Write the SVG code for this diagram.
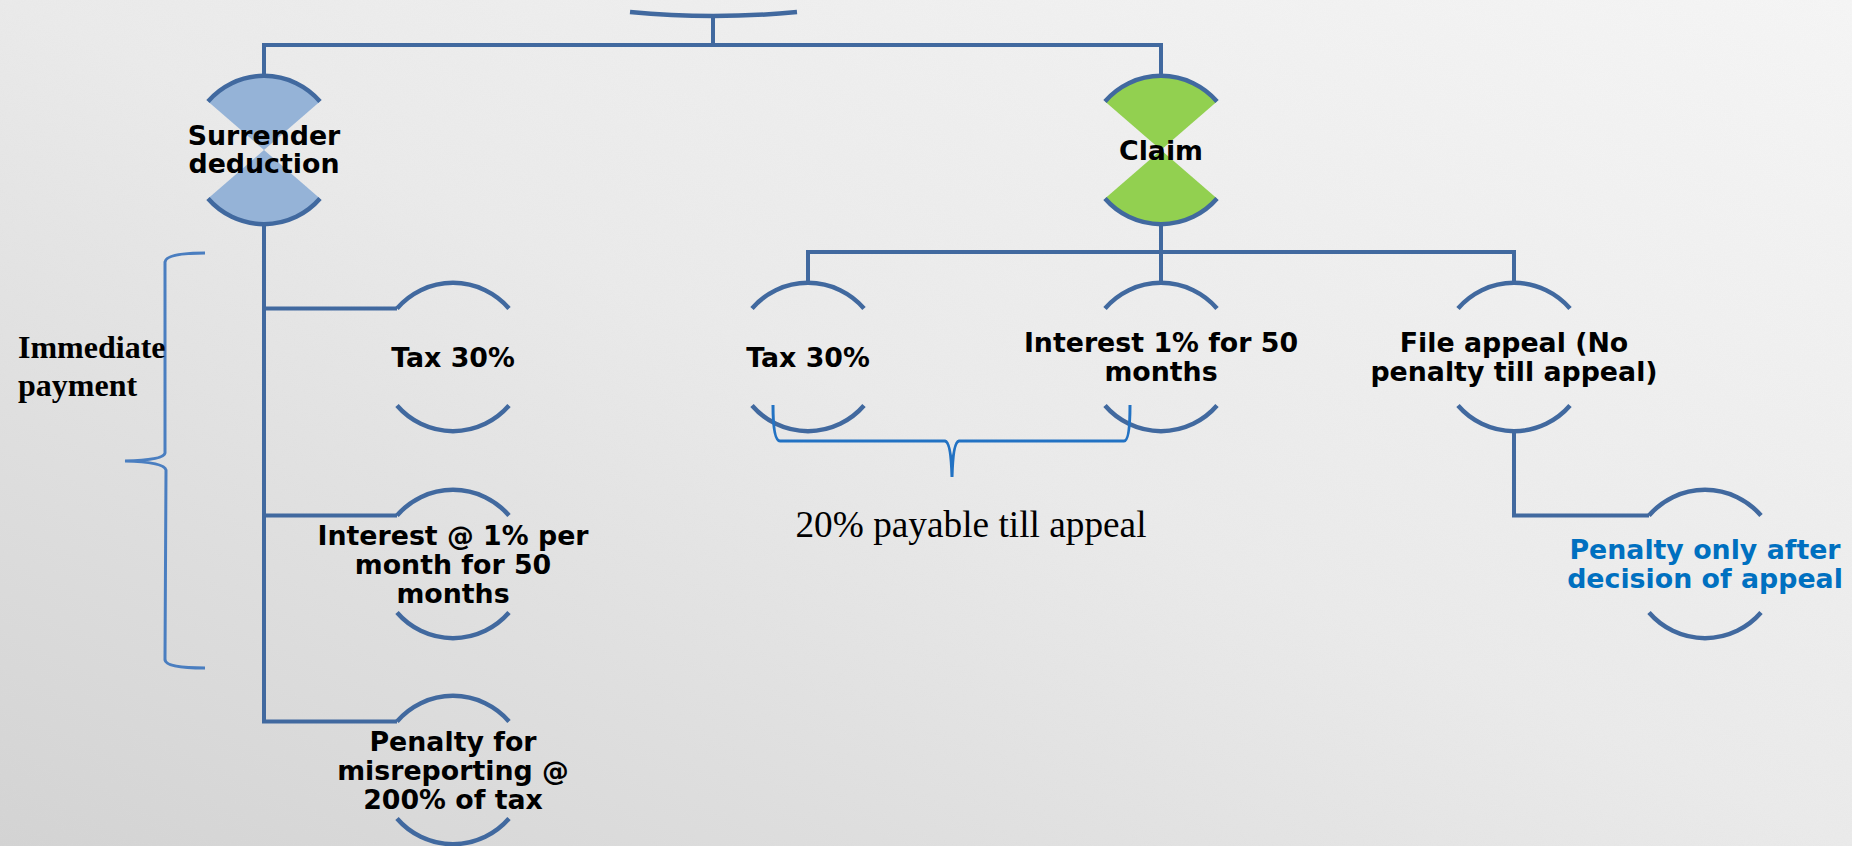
<svg xmlns="http://www.w3.org/2000/svg" width="1852" height="846" viewBox="0 0 1852 846">
  <defs>
    <linearGradient id="bg" x1="1" y1="0" x2="0" y2="1">
      <stop offset="0" stop-color="#F6F6F6"/>
      <stop offset="0.5" stop-color="#EBEBEB"/>
      <stop offset="1" stop-color="#D4D4D4"/>
    </linearGradient>
    <filter id="grain" x="0" y="0" width="100%" height="100%">
      <feTurbulence type="fractalNoise" baseFrequency="0.9" numOctaves="2" seed="3" result="n"/>
      <feColorMatrix in="n" type="matrix" values="0 0 0 0 0.5  0 0 0 0 0.5  0 0 0 0 0.5  0 0 0 0.06 0"/>
    </filter>
  </defs>
  <style>
    .ln { fill: none; stroke: #41699F; stroke-width: 4; }
    .arc { fill: none; stroke: #41699F; stroke-width: 4.5; }
    .wedgeB { fill: #95B3D7; stroke: none; }
    .wedgeG { fill: #92D050; stroke: none; }
    .lbl { font-family: "DejaVu Sans", Verdana, sans-serif; font-weight: bold; font-size: 26.8px; fill: #000; text-anchor: middle; }
    .blue { fill: #0070C0; }
    .brace { fill: none; stroke: #4A7EC0; stroke-width: 3; }
    .brace2 { fill: none; stroke: #2272C3; stroke-width: 3; }
    .serif { font-family: "Liberation Serif", "Times New Roman", serif; fill: #000; }
  </style>
  <rect width="1852" height="846" fill="url(#bg)"/>
  <rect width="1852" height="846" filter="url(#grain)"/>

  <g id="connectors">
    <line class="ln" x1="713" y1="16" x2="713" y2="45"/>
    <path class="ln" d="M264 76 V45 H1161 V76"/>
    <path class="ln" d="M264 224 V721.5 H397"/>
    <line class="ln" x1="264" y1="308.5" x2="397" y2="308.5"/>
    <line class="ln" x1="264" y1="515.5" x2="397" y2="515.5"/>
    <line class="ln" x1="1161" y1="224" x2="1161" y2="283"/>
    <path class="ln" d="M808 283 V252 H1514 V283"/>
    <path class="ln" d="M1514 431 V515.5 H1649"/>
  </g>

  <g id="root">
    <path class="arc" d="M630 12 Q713 20 797 12"/>
  </g>

  <g id="surrender">
    <path class="wedgeB" d="M264 150 L208 101.5 A74 74 0 0 1 320 101.5 Z"/>
    <path class="wedgeB" d="M264 150 L208 198.5 A74 74 0 0 0 320 198.5 Z"/>
    <path class="arc" d="M208 101.5 A74 74 0 0 1 320 101.5"/>
    <path class="arc" d="M208 198.5 A74 74 0 0 0 320 198.5"/>
    <text class="lbl" x="264" y="145">Surrender</text>
    <text class="lbl" x="264" y="173">deduction</text>
  </g>

  <g id="claim">
    <path class="wedgeG" d="M1161 150 L1105 101.5 A74 74 0 0 1 1217 101.5 Z"/>
    <path class="wedgeG" d="M1161 150 L1105 198.5 A74 74 0 0 0 1217 198.5 Z"/>
    <path class="arc" d="M1105 101.5 A74 74 0 0 1 1217 101.5"/>
    <path class="arc" d="M1105 198.5 A74 74 0 0 0 1217 198.5"/>
    <text class="lbl" x="1161" y="159.5">Claim</text>
  </g>

  <g id="tax-left">
    <path class="arc" d="M397 308.5 A74 74 0 0 1 509 308.5"/>
    <path class="arc" d="M397 405.5 A74 74 0 0 0 509 405.5"/>
    <text class="lbl" x="453" y="366.5">Tax 30%</text>
  </g>

  <g id="interest-left">
    <path class="arc" d="M397 515.5 A74 74 0 0 1 509 515.5"/>
    <path class="arc" d="M397 612.5 A74 74 0 0 0 509 612.5"/>
    <text class="lbl" x="453" y="544.5">Interest @ 1% per</text>
    <text class="lbl" x="453" y="573.5">month for 50</text>
    <text class="lbl" x="453" y="602.5">months</text>
  </g>

  <g id="penalty-left">
    <path class="arc" d="M397 721.5 A74 74 0 0 1 509 721.5"/>
    <path class="arc" d="M397 818.5 A74 74 0 0 0 509 818.5"/>
    <text class="lbl" x="453" y="750.5">Penalty for</text>
    <text class="lbl" x="453" y="779.5">misreporting @</text>
    <text class="lbl" x="453" y="808.5">200% of tax</text>
  </g>

  <g id="tax-right">
    <path class="arc" d="M752 308.5 A74 74 0 0 1 864 308.5"/>
    <path class="arc" d="M752 405.5 A74 74 0 0 0 864 405.5"/>
    <text class="lbl" x="808" y="366.5">Tax 30%</text>
  </g>

  <g id="interest-right">
    <path class="arc" d="M1105 308.5 A74 74 0 0 1 1217 308.5"/>
    <path class="arc" d="M1105 405.5 A74 74 0 0 0 1217 405.5"/>
    <text class="lbl" x="1161" y="351.5">Interest 1% for 50</text>
    <text class="lbl" x="1161" y="380.5">months</text>
  </g>

  <g id="file-appeal">
    <path class="arc" d="M1458 308.5 A74 74 0 0 1 1570 308.5"/>
    <path class="arc" d="M1458 405.5 A74 74 0 0 0 1570 405.5"/>
    <text class="lbl" x="1514" y="351.5">File appeal (No</text>
    <text class="lbl" x="1514" y="380.5">penalty till appeal)</text>
  </g>

  <g id="penalty-after">
    <path class="arc" d="M1649 515.5 A74 74 0 0 1 1761 515.5"/>
    <path class="arc" d="M1649 612.5 A74 74 0 0 0 1761 612.5"/>
    <text class="lbl blue" x="1705" y="559">Penalty only after</text>
    <text class="lbl blue" x="1705" y="588">decision of appeal</text>
  </g>

  <g id="immediate-brace">
    <path class="brace" d="M205 253 Q166 253 165 262 L165 453 Q164 460 125 461 Q164 462 166 470 L165 660 Q166 668 205 668"/>
    <text class="serif" x="18" y="358" font-size="32" font-weight="bold">Immediate</text>
    <text class="serif" x="18" y="396" font-size="32" font-weight="bold">payment</text>
  </g>

  <g id="appeal-brace">
    <path class="brace2" d="M773 405 Q773 441 780 441 L945 441 Q951 442 952 477 Q953 442 959 441 L1124 441 Q1130 441 1130 405"/>
    <text class="serif" x="971" y="537" font-size="37.3" text-anchor="middle">20% payable till appeal</text>
  </g>
</svg>
